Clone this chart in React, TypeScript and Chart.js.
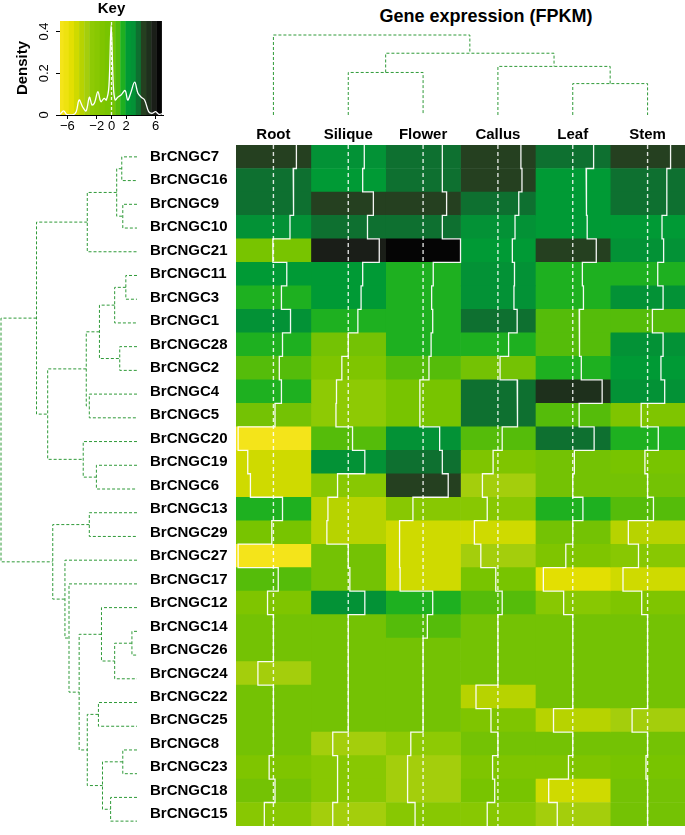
import React, { useEffect, useRef } from "react";
import { Chart, registerables } from "chart.js";
Chart.register(...registerables);

const FONT = "'Liberation Sans', Arial, Helvetica, sans-serif";

const GENES = ["BrCNGC7","BrCNGC16","BrCNGC9","BrCNGC10","BrCNGC21","BrCNGC11","BrCNGC3","BrCNGC1","BrCNGC28","BrCNGC2","BrCNGC4","BrCNGC5","BrCNGC20","BrCNGC19","BrCNGC6","BrCNGC13","BrCNGC29","BrCNGC27","BrCNGC17","BrCNGC12","BrCNGC14","BrCNGC26","BrCNGC24","BrCNGC22","BrCNGC25","BrCNGC8","BrCNGC23","BrCNGC18","BrCNGC15"];
const TISSUES = ["Root", "Silique", "Flower", "Callus", "Leaf", "Stem"];

// scaled expression values (row order as displayed)
const ROOT    = [4.3,3.7,3.8,3.1,-0.1,2.5,1.5,3.2,1.7,1.1,1.5,0.3,-6.6,-4.8,-4.3,1.7,-0.3,-6.6,0.9,-1.1,0,0,-2.9,0,0,0,-0.8,0.3,-1.7];
const SILIQUE = [3.0,2.7,4.7,3.6,5.8,2.7,2.4,1.8,0.0,-1.2,-2.2,-2.3,0.8,3.1,-2.0,-3.8,-4.0,0.0,0.3,3.1,0,0,0,0,0,-2.9,-2.0,-2.0,-2.9];
const FLOWER  = [3.6,3.6,4.4,3.6,7.0,1.9,1.6,1.8,1.5,1.1,-0.6,-0.6,3.1,3.6,4.7,-1.9,-4.4,-4.4,-4.3,1.8,0.8,0,0,0,0,-2.3,-2.9,-2.9,-1.5];
const CALLUS  = [4.3,4.5,3.9,3.2,2.7,3.1,3.0,3.6,2.0,0.4,3.6,3.7,0.8,-0.9,-2.9,-2.0,-4.4,-3.2,-0.4,0.8,0,0,0,-4.1,-1.3,0,-1.0,-0.6,-2.0];
const LEAF    = [3.9,2.5,2.6,2.7,4.4,1.8,2.0,1.2,1.3,1.6,5.5,1.2,4.0,0.3,0.0,1.9,0.0,-1.3,-5.5,-1.7,0,0,0,0,-3.6,0,-0.8,-4.5,-2.9];
const STEM    = [4.3,3.6,3.6,2.7,3.0,1.9,2.9,0.9,2.9,2.5,3.2,-1.2,2.0,-0.5,0.0,1.1,-3.6,-1.7,-4.6,-1.1,0,0,0,0,-2.9,0,-0.3,0,0];
const VALUES = [ROOT, SILIQUE, FLOWER, CALLUS, LEAF, STEM];

// colour key
const KEY_MIN = -7;
const KEY_MAX = 7;
const KEY_YMAX = 0.45;
const KEY_TICKS = [-6, -2, 0, 2, 6];
const DENSITY_TICKS = [0, 0.2, 0.4];
const PALETTE = ["#F4E41A","#EEE210","#E3DF02","#CFDA00","#B7D300","#A4CE0C","#8ECA04","#88C802","#7FC500","#78C400","#74C204","#55BC0A","#1EB020","#009A35","#039236","#0E7030","#254020","#1E301C","#1A1E18","#050505"];
const KEY_X = [-7,-6.5,-6.1,-5.3,-4.8,-4.4,-3.9,-3.45,-3.0,-2.65,-2.3,-1.85,-1.45,-1.0,-0.7,-0.35,-0.05,0.25,0.5,0.85,1.3,1.85,2.2,2.6,3.15,3.6,4.05,4.5,5.05,5.5,6.0,6.45,7];
const KEY_DENSITY = [0.003,0.02,0.003,0.0,0.016,0.072,0.037,0.02,0.085,0.048,0.059,0.112,0.064,0.08,0.072,0.137,0.43,0.137,0.072,0.085,0.096,0.117,0.072,0.104,0.157,0.104,0.085,0.072,0.016,0.008,0.016,0.003,0.008];

// dendrograms: [child, child, height]; numbers refer to earlier merges
const ROW_MERGES: any[] = [
  ["BrCNGC7", "BrCNGC16", 15],
  ["BrCNGC9", "BrCNGC10", 14],
  [0, 1, 20],
  [2, "BrCNGC21", 49],
  ["BrCNGC11", "BrCNGC3", 11],
  [4, "BrCNGC1", 22],
  ["BrCNGC28", "BrCNGC2", 17],
  [5, 6, 37],
  ["BrCNGC4", "BrCNGC5", 47],
  [7, 8, 50],
  ["BrCNGC19", "BrCNGC6", 40],
  ["BrCNGC20", 10, 53],
  [9, 11, 88],
  [3, 12, 99],
  ["BrCNGC13", "BrCNGC29", 47],
  ["BrCNGC14", "BrCNGC26", 5],
  [15, "BrCNGC24", 22],
  ["BrCNGC12", 16, 35],
  ["BrCNGC22", "BrCNGC25", 38],
  ["BrCNGC8", "BrCNGC23", 14],
  ["BrCNGC18", "BrCNGC15", 26],
  [19, 20, 34],
  [18, 21, 49],
  [17, 22, 57],
  ["BrCNGC17", 23, 67],
  ["BrCNGC27", 24, 71],
  [14, 25, 83],
  [13, 26, 134],
];
const ROW_TREE_HEIGHT = 134;
const COL_MERGES: any[] = [
  ["Silique", "Flower", 42],
  ["Leaf", "Stem", 31],
  ["Callus", 1, 48],
  [0, 2, 61],
  ["Root", 3, 79],
];
const COL_TREE_HEIGHT = 79;

const DENDRO_COLOR = "#2F9A38";

function colorFor(v: number) {
  const n = PALETTE.length;
  const i = Math.floor(((v - KEY_MIN) / (KEY_MAX - KEY_MIN)) * n);
  return PALETTE[Math.max(0, Math.min(n - 1, i))];
}

function dendroLines(merges: any[], leaves: string[]) {
  const pos: { p: number; h: number }[] = [];
  const info = (c: any) => (typeof c === "number" ? pos[c] : { p: leaves.indexOf(c) + 0.5, h: 0 });
  const pts: { p: number | null; h: number | null }[] = [];
  merges.forEach(([a, b, h]: any, i: number) => {
    const A = info(a);
    const B = info(b);
    pts.push({ p: A.p, h: A.h }, { p: A.p, h }, { p: B.p, h }, { p: B.p, h: B.h }, { p: null, h: null });
    pos[i] = { p: (A.p + B.p) / 2, h };
  });
  return pts;
}

const traceX = (c: number, v: number) => c + (v - KEY_MIN) / (KEY_MAX - KEY_MIN);

export default function App() {
  const keyRef = useRef<HTMLCanvasElement>(null);
  const colRef = useRef<HTMLCanvasElement>(null);
  const rowRef = useRef<HTMLCanvasElement>(null);
  const heatRef = useRef<HTMLCanvasElement>(null);

  useEffect(() => {
    Chart.defaults.font.family = FONT;
    Chart.defaults.color = "#000";
    const charts: Chart[] = [];

    // ---------- Heatmap ----------
    const barDatasets: any[] = TISSUES.map((t, c) => ({
      type: "bar",
      label: t,
      data: GENES.map(() => [c, c + 1]),
      backgroundColor: VALUES[c].map(colorFor),
      borderWidth: 0,
      barPercentage: 1,
      categoryPercentage: 1,
      grouped: false,
      xAxisID: "x",
      yAxisID: "y",
      order: 3,
    }));
    const vlineDatasets: any[] = TISSUES.map((t, c) => ({
      type: "line",
      label: t + " zero",
      data: [
        { x: traceX(c, 0), y: 0 },
        { x: traceX(c, 0), y: GENES.length },
      ],
      borderColor: "rgba(255,255,255,0.85)",
      borderWidth: 1.4,
      borderDash: [4, 3],
      pointRadius: 0,
      xAxisID: "x",
      yAxisID: "yT",
      order: 1,
    }));
    const traceDatasets: any[] = TISSUES.map((t, c) => ({
      type: "line",
      label: t + " trace",
      data: VALUES[c].flatMap((v, r) => [
        { x: traceX(c, v), y: r },
        { x: traceX(c, v), y: r + 1 },
      ]),
      borderColor: "rgba(255,255,255,0.95)",
      borderWidth: 1.3,
      pointRadius: 0,
      tension: 0,
      xAxisID: "x",
      yAxisID: "yT",
      order: 0,
    }));

    charts.push(
      new Chart(heatRef.current as HTMLCanvasElement, {
        type: "bar",
        data: { labels: GENES, datasets: [...barDatasets, ...vlineDatasets, ...traceDatasets] },
        options: {
          indexAxis: "y",
          animation: false,
          responsive: false,
          devicePixelRatio: 1,
          layout: { padding: { left: 0, right: 0, top: 0, bottom: 2 } },
          plugins: { legend: { display: false }, tooltip: { enabled: false }, title: { display: false } },
          scales: {
            x: {
              type: "linear",
              position: "top",
              min: 0,
              max: TISSUES.length,
              offset: false,
              grid: { display: false, drawTicks: false },
              border: { display: false },
              afterBuildTicks: (s: any) => {
                s.ticks = TISSUES.map((_, i) => ({ value: i + 0.5 }));
              },
              afterFit: (s: any) => {
                s.height = 25;
              },
              ticks: {
                autoSkip: false,
                maxRotation: 0,
                padding: 1,
                color: "#000",
                font: { family: FONT, size: 15, weight: "bold" },
                callback: (v: any) => TISSUES[Math.floor(Number(v))],
              },
            },
            y: {
              type: "category",
              position: "left",
              offset: true,
              grid: { display: false, drawTicks: false, offset: true },
              border: { display: false },
              afterFit: (s: any) => {
                s.width = 86;
              },
              ticks: {
                autoSkip: false,
                crossAlign: "far",
                padding: 0,
                color: "#000",
                font: { family: FONT, size: 15, weight: "bold" },
              },
            },
            yT: {
              type: "linear",
              display: false,
              offset: false,
              min: 0,
              max: GENES.length,
              reverse: true,
              grid: { offset: false },
            },
          },
        } as any,
      })
    );

    // ---------- Row dendrogram ----------
    const rowPts = dendroLines(ROW_MERGES, GENES).map((q) => ({ x: q.h, y: q.p }));
    charts.push(
      new Chart(rowRef.current as HTMLCanvasElement, {
        type: "scatter",
        data: {
          datasets: [
            {
              data: rowPts,
              showLine: true,
              borderColor: DENDRO_COLOR,
              borderWidth: 1,
              borderDash: [3, 2],
              pointRadius: 0,
              spanGaps: false,
              clip: false,
            } as any,
          ],
        },
        options: {
          animation: false,
          responsive: false,
          devicePixelRatio: 1,
          layout: { padding: { left: 1, right: 0, top: 0, bottom: 0 } },
          plugins: { legend: { display: false }, tooltip: { enabled: false } },
          scales: {
            x: { type: "linear", display: false, offset: false, min: 0, max: ROW_TREE_HEIGHT, reverse: true },
            y: { type: "linear", display: false, offset: false, min: 0, max: GENES.length, reverse: true },
          },
        } as any,
      })
    );

    // ---------- Column dendrogram ----------
    const colPts = dendroLines(COL_MERGES, TISSUES).map((q) => ({ x: q.p, y: q.h }));
    charts.push(
      new Chart(colRef.current as HTMLCanvasElement, {
        type: "scatter",
        data: {
          datasets: [
            {
              data: colPts,
              showLine: true,
              borderColor: DENDRO_COLOR,
              borderWidth: 1,
              borderDash: [3, 2],
              pointRadius: 0,
              spanGaps: false,
              clip: false,
            } as any,
          ],
        },
        options: {
          animation: false,
          responsive: false,
          devicePixelRatio: 1,
          layout: { padding: { left: 0, right: 0, top: 5, bottom: 1 } },
          plugins: { legend: { display: false }, tooltip: { enabled: false } },
          scales: {
            x: { type: "linear", display: false, offset: false, min: 0, max: TISSUES.length },
            y: { type: "linear", display: false, offset: false, min: 0, max: COL_TREE_HEIGHT },
          },
        } as any,
      })
    );

    // ---------- Colour key ----------
    charts.push(
      new Chart(keyRef.current as HTMLCanvasElement, {
        type: "bar",
        data: {
          labels: PALETTE.map((_, i) => String(i)),
          datasets: [
            {
              type: "bar",
              data: PALETTE.map(() => KEY_YMAX),
              backgroundColor: PALETTE,
              borderWidth: 0,
              inflateAmount: 1.5,
              barPercentage: 1,
              categoryPercentage: 1,
              xAxisID: "xb",
              yAxisID: "y",
              order: 3,
            },
            {
              type: "line",
              data: [
                { x: 0, y: 0 },
                { x: 0, y: KEY_YMAX },
              ],
              borderColor: "rgba(255,255,255,0.9)",
              borderWidth: 1.3,
              borderDash: [3, 2],
              pointRadius: 0,
              xAxisID: "x",
              yAxisID: "y",
              order: 1,
            },
            {
              type: "line",
              data: KEY_X.map((x, i) => ({ x, y: KEY_DENSITY[i] })),
              borderColor: "#ffffff",
              borderWidth: 1.3,
              pointRadius: 0,
              tension: 0.35,
              xAxisID: "x",
              yAxisID: "y",
              order: 0,
            },
          ] as any,
        },
        options: {
          animation: false,
          responsive: false,
          devicePixelRatio: 1,
          layout: { padding: { left: 0, right: 7, top: 0, bottom: 0 } },
          plugins: {
            legend: { display: false },
            tooltip: { enabled: false },
            title: {
              display: true,
              text: "Key",
              fullSize: false,
              color: "#000",
              font: { family: FONT, size: 15, weight: "bold" },
              padding: { top: 0, bottom: 3 },
            },
          },
          scales: {
            xb: { type: "category", display: false, offset: true, grid: { display: false } },
            x: {
              type: "linear",
              position: "bottom",
              offset: false,
              min: KEY_MIN,
              max: KEY_MAX,
              grid: { offset: false, drawOnChartArea: false, drawTicks: true, tickLength: 4, color: "#000" },
              border: { display: true, color: "#000" },
              afterBuildTicks: (s: any) => {
                s.ticks = KEY_TICKS.map((v) => ({ value: v }));
              },
              afterFit: (s: any) => {
                s.height = 25;
              },
              ticks: {
                autoSkip: false,
                maxRotation: 0,
                padding: 0,
                color: "#000",
                font: { family: FONT, size: 13 },
                callback: (v: any) => (Number(v) < 0 ? "\u2212" + Math.abs(Number(v)) : String(v)),
              },
            },
            y: {
              type: "linear",
              position: "left",
              min: 0,
              max: KEY_YMAX,
              grid: { drawOnChartArea: false, drawTicks: true, tickLength: 4, color: "#000" },
              border: { display: true, color: "#000" },
              afterBuildTicks: (s: any) => {
                s.ticks = DENSITY_TICKS.map((v) => ({ value: v }));
              },
              afterFit: (s: any) => {
                s.width = 60;
              },
              title: {
                display: true,
                text: "Density",
                color: "#000",
                font: { family: FONT, size: 15, weight: "bold" },
                padding: { top: 14, bottom: 0 },
              },
              ticks: {
                autoSkip: false,
                minRotation: 90,
                maxRotation: 90,
                crossAlign: "center",
                padding: 3,
                color: "#000",
                font: { family: FONT, size: 13 },
                callback: (v: any) => (Number(v) === 0 ? "0" : Number(v).toFixed(1)),
              },
            },
          },
        } as any,
      })
    );

    return () => {
      charts.forEach((c) => c.destroy());
    };
  }, []);

  const abs = (left: number, top: number, width: number, height: number): React.CSSProperties => ({
    position: "absolute",
    left,
    top,
    width,
    height,
    display: "block",
  });

  return (
    <div style={{ position: "absolute", left: 0, top: 0, width: 685, height: 835, overflow: "hidden", background: "#fff" }}>
      <div
        style={{
          position: "absolute",
          left: 336,
          top: 6,
          width: 300,
          textAlign: "center",
          fontFamily: FONT,
          fontWeight: "bold",
          fontSize: 18,
          lineHeight: "20px",
          color: "#000",
        }}
      >
        Gene expression (FPKM)
      </div>
      <canvas ref={keyRef} width={170} height={140} style={abs(0, 0, 170, 140)} />
      <canvas ref={colRef} width={449} height={86} style={abs(236, 30, 449, 86)} />
      <canvas ref={rowRef} width={137} height={688} style={abs(0, 145, 137, 688)} />
      <canvas ref={heatRef} width={535} height={715} style={abs(150, 120, 535, 715)} />
    </div>
  );
}
